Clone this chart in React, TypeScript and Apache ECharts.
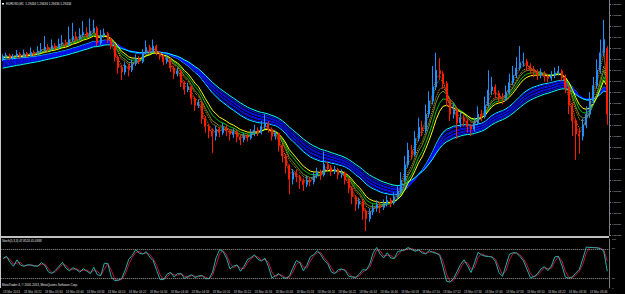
import React, { useEffect, useRef } from "react";
import * as echarts from "echarts";

const timeTicks = [
  "18 Mar 2013", "18 Mar 03:22", "18 Mar 03:34", "18 Mar 03:46", "18 Mar 03:58",
  "18 Mar 04:10", "18 Mar 04:22", "18 Mar 04:34", "18 Mar 04:46", "18 Mar 04:58",
  "18 Mar 05:10", "18 Mar 05:22", "18 Mar 05:34", "18 Mar 05:46", "18 Mar 05:58",
  "18 Mar 06:10", "18 Mar 06:22", "18 Mar 06:34", "18 Mar 06:46", "18 Mar 06:58",
  "18 Mar 07:10", "18 Mar 07:22", "18 Mar 07:34", "18 Mar 07:46", "18 Mar 07:58",
  "18 Mar 08:10", "18 Mar 08:22", "18 Mar 08:34", "18 Mar 08:46",
];

const opens = [
  1.29426,1.2943,1.29434,1.29428,1.29432,1.29437,1.29431,1.29438,1.29434,1.29441,
  1.29437,1.29444,1.29447,1.29453,1.29448,1.29456,1.29451,1.2946,1.29463,1.29458,
  1.2947,1.29477,1.29471,1.2948,1.29486,1.29479,1.29489,1.29496,1.29462,1.29479,
  1.29484,1.2947,1.29455,1.2943,1.29406,1.29396,1.29411,1.29401,1.29415,1.29426,
  1.2942,1.2944,1.29452,1.29445,1.29455,1.2944,1.29432,1.2942,1.29426,1.29405,
  1.29392,1.29398,1.29372,1.29356,1.29362,1.29335,1.2932,1.29326,1.2929,1.29272,
  1.29262,1.2925,1.29266,1.29258,1.2927,1.29262,1.29254,1.2926,1.29248,1.29242,
  1.2925,1.29246,1.29256,1.29264,1.29258,1.29272,1.2928,1.29266,1.2925,1.29256,
  1.29228,1.29205,1.29182,1.29152,1.29168,1.29158,1.29148,1.2914,1.2915,1.29146,
  1.2916,1.29168,1.29162,1.29186,1.29178,1.2917,1.29174,1.29162,1.29166,1.2915,
  1.29132,1.29112,1.29095,1.29102,1.2908,1.29062,1.29078,1.29086,1.29094,1.29088,
  1.29097,1.29104,1.29098,1.29112,1.29125,1.2915,1.29185,1.29218,1.29208,1.29245,
  1.2927,1.29262,1.293,1.2933,1.29362,1.294,1.29392,1.2937,1.2933,1.293,
  1.2931,1.2928,1.29292,1.29284,1.29272,1.29266,1.2928,1.293,1.29295,1.2932,
  1.29355,1.29362,1.29348,1.29338,1.29335,1.2935,1.29372,1.29388,1.29405,1.29418,
  1.2942,1.2941,1.29402,1.29395,1.2939,1.29393,1.29386,1.29382,1.29388,1.29394,
  1.29398,1.29385,1.2936,1.2932,1.29285,1.29255,1.2925,1.29275,1.293,1.2933,
  1.29365,1.294,1.2944,1.2945,
];

const closes = [
  1.2943,1.29434,1.29428,1.29432,1.29437,1.29431,1.29438,1.29434,1.29441,1.29437,
  1.29444,1.29447,1.29453,1.29448,1.29456,1.29451,1.2946,1.29463,1.29458,1.2947,
  1.29477,1.29471,1.2948,1.29486,1.29479,1.29489,1.29496,1.29462,1.29479,1.29484,
  1.2947,1.29455,1.2943,1.29406,1.29396,1.29411,1.29401,1.29415,1.29426,1.2942,
  1.2944,1.29452,1.29445,1.29455,1.2944,1.29432,1.2942,1.29426,1.29405,1.29392,
  1.29398,1.29372,1.29356,1.29362,1.29335,1.2932,1.29326,1.2929,1.29272,1.29262,
  1.2925,1.29266,1.29258,1.2927,1.29262,1.29254,1.2926,1.29248,1.29242,1.2925,
  1.29246,1.29256,1.29264,1.29258,1.29272,1.2928,1.29266,1.2925,1.29256,1.29228,
  1.29205,1.29182,1.29152,1.29168,1.29158,1.29148,1.2914,1.2915,1.29146,1.2916,
  1.29168,1.29162,1.29186,1.29178,1.2917,1.29174,1.29162,1.29166,1.2915,1.29132,
  1.29112,1.29095,1.29102,1.2908,1.29062,1.29078,1.29086,1.29094,1.29088,1.29097,
  1.29104,1.29098,1.29112,1.29125,1.2915,1.29185,1.29218,1.29208,1.29245,1.2927,
  1.29262,1.293,1.2933,1.29362,1.294,1.29392,1.2937,1.2933,1.293,1.2931,
  1.2928,1.29292,1.29284,1.29272,1.29266,1.2928,1.293,1.29295,1.2932,1.29355,
  1.29362,1.29348,1.29338,1.29335,1.2935,1.29372,1.29388,1.29405,1.29418,1.2942,
  1.2941,1.29402,1.29395,1.2939,1.29393,1.29386,1.29382,1.29388,1.29394,1.29398,
  1.29385,1.2936,1.2932,1.29285,1.29255,1.2925,1.29275,1.293,1.2933,1.29365,
  1.294,1.2944,1.2947,1.293,
];

const highs = [
  1.29436,1.2944,1.29438,1.29437,1.29446,1.29441,1.29447,1.29442,1.29452,1.29445,
  1.29455,1.29462,1.29478,1.2946,1.2947,1.29462,1.29472,1.2948,1.2947,1.295,
  1.29508,1.29488,1.29496,1.29512,1.29498,1.29518,1.29515,1.295,1.29492,1.29495,
  1.29488,1.29474,1.2946,1.29434,1.29412,1.29418,1.29415,1.29424,1.29436,1.29432,
  1.29448,1.29468,1.29458,1.2947,1.29458,1.29444,1.29436,1.29434,1.29428,1.2941,
  1.29406,1.29402,1.29376,1.29372,1.29365,1.2934,1.29334,1.2933,1.29296,1.29278,
  1.29268,1.29274,1.2927,1.2928,1.29276,1.29266,1.29268,1.29264,1.29254,1.29258,
  1.29256,1.29266,1.29276,1.2927,1.29285,1.293,1.29284,1.2927,1.29262,1.29258,
  1.29232,1.2921,1.29186,1.29175,1.29174,1.29162,1.29154,1.2916,1.29156,1.29168,
  1.29178,1.29174,1.29215,1.29192,1.29184,1.29182,1.29178,1.29174,1.2917,1.29155,
  1.29136,1.29116,1.2911,1.29106,1.29085,1.29086,1.29095,1.29104,1.291,1.29106,
  1.29115,1.2911,1.29122,1.29136,1.29168,1.29205,1.29235,1.2923,1.29262,1.29292,
  1.29285,1.29322,1.29352,1.2941,1.2944,1.29428,1.29398,1.29375,1.29338,1.29325,
  1.29316,1.29305,1.29298,1.2929,1.29278,1.29292,1.29318,1.2931,1.2934,1.294,
  1.29385,1.29368,1.29354,1.29348,1.29365,1.29392,1.2941,1.2943,1.29455,1.2944,
  1.29426,1.29416,1.2941,1.29402,1.29404,1.29398,1.29392,1.29398,1.29406,1.2941,
  1.29402,1.2939,1.29365,1.29326,1.2929,1.29268,1.2929,1.29318,1.2935,1.29385,
  1.29425,1.2947,1.29515,1.29455,
];

const lows = [
  1.29421,1.29426,1.29423,1.29424,1.29429,1.29426,1.29428,1.29429,1.29431,1.29432,
  1.29434,1.2944,1.29443,1.29442,1.29445,1.29446,1.29448,1.29455,1.29452,1.29455,
  1.29465,1.29466,1.29468,1.29476,1.29474,1.29476,1.29485,1.29455,1.29458,1.29474,
  1.29462,1.29448,1.2942,1.29392,1.29378,1.2939,1.29386,1.29396,1.2941,1.29414,
  1.29416,1.29436,1.29438,1.2944,1.29434,1.29424,1.29412,1.29415,1.29396,1.2938,
  1.29386,1.29362,1.29345,1.2935,1.29322,1.29308,1.29314,1.29278,1.29258,1.29245,
  1.29212,1.2924,1.29248,1.29252,1.2925,1.2924,1.29246,1.29236,1.2923,1.29236,
  1.29238,1.29242,1.2925,1.2925,1.29254,1.29266,1.29258,1.2924,1.29242,1.29215,
  1.2919,1.29165,1.29118,1.2914,1.29145,1.2913,1.29125,1.29134,1.29136,1.2914,
  1.29154,1.2915,1.29158,1.29168,1.2916,1.29164,1.29152,1.29155,1.2914,1.2912,
  1.29095,1.2908,1.29085,1.2906,1.29034,1.29055,1.2907,1.29078,1.29075,1.29082,
  1.2909,1.29088,1.29094,1.29106,1.2912,1.29145,1.29178,1.29198,1.29204,1.29238,
  1.2925,1.29256,1.29292,1.29322,1.29355,1.2938,1.29358,1.29318,1.29285,1.2929,
  1.29244,1.2927,1.29272,1.29258,1.2925,1.2926,1.29275,1.29284,1.2929,1.29315,
  1.29345,1.29336,1.29326,1.29322,1.2933,1.29345,1.29366,1.29382,1.294,1.29408,
  1.29398,1.29392,1.29384,1.29378,1.29382,1.29374,1.29372,1.29376,1.29382,1.29388,
  1.29375,1.29348,1.293,1.2925,1.29196,1.2921,1.2924,1.29268,1.29292,1.29322,
  1.29358,1.29392,1.29432,1.29276,
];

// Moving-average ribbon settings (periods in 2-minute bars, and the values the lines enter the window with)
const fastPeriods = [2, 3, 5, 6, 8, 10];
const fastSeeds = [1.29432, 1.29432, 1.29431, 1.2943, 1.29429, 1.29428];
const slowPeriods = [20, 21, 23, 24, 26, 27, 29, 31];
const slowSeeds = [1.29424, 1.29421, 1.29418, 1.29415, 1.29412, 1.29409, 1.29406, 1.29403];

// Stochastic settings on the 2-minute bars (equivalent time span of Stoch(5,3,3) on M1)
const stochParams = [3, 2, 2];

const priceTicks = { min: 1.29025, max: 1.2956, step: 0.00025 };
const stochLevels = [80, 20];
const titleText = "EURUSD,M1  1.29434 1.29434 1.29434 1.29434";
const stochText = "Stoch(5,3,3) 47.8524 45.0938";
const copyText = "MetaTrader 4, \u00A9 2001-2013, MetaQuotes Software Corp.";

function ema(src: number[], period: number, seed: number) {
  const a = 2 / (period + 1);
  let v = seed;
  return src.map((c) => {
    v = v + a * (c - v);
    return +v.toFixed(6);
  });
}

function stochastic(h: number[], l: number[], c: number[], kP: number, slow: number, dP: number) {
  const num: number[] = [];
  const den: number[] = [];
  for (let i = 0; i < c.length; i++) {
    let lo = Infinity, hi = -Infinity;
    for (let j = Math.max(0, i - kP + 1); j <= i; j++) {
      lo = Math.min(lo, l[j]);
      hi = Math.max(hi, h[j]);
    }
    num.push(c[i] - lo);
    den.push(hi - lo);
  }
  const main: number[] = [];
  for (let i = 0; i < c.length; i++) {
    let sn = 0, sd = 0;
    for (let j = Math.max(0, i - slow + 1); j <= i; j++) {
      sn += num[j];
      sd += den[j];
    }
    main.push(sd > 0 ? +((sn / sd) * 100).toFixed(3) : 50);
  }
  const sig: number[] = [];
  for (let i = 0; i < c.length; i++) {
    let s = 0, n = 0;
    for (let j = Math.max(0, i - dP + 1); j <= i; j++) {
      s += main[j];
      n++;
    }
    sig.push(+(s / n).toFixed(3));
  }
  return { main, sig };
}

export default function App() {
  const ref = useRef<HTMLDivElement>(null);
  useEffect(() => {
    if (!ref.current) return;
    const chart = echarts.init(ref.current, undefined, { renderer: "svg" });
    const cats = closes.map((_, i) => String(i));
    const candles = closes.map((c, i) => [opens[i], c, lows[i], highs[i]]);
    const fastColors = ["#d2691e", "#b8860b", "#daa520", "#6b8e23", "#00c000", "#ffff00"];
    const fastTypes = ["dotted", "dotted", "dotted", "solid", "solid", "solid"];
    const slowColors = ["#00ffff", "#0a14ff", "#0a14ff", "#0a14ff", "#0a14ff", "#0a14ff", "#0a14ff", "#00ffff"];
    const st = stochastic(highs, lows, closes, stochParams[0], stochParams[1], stochParams[2]);

    const lineSeries: any[] = [];
    slowPeriods.forEach((p, k) => {
      lineSeries.push({
        type: "line",
        xAxisIndex: 0,
        yAxisIndex: 0,
        data: ema(closes, p, slowSeeds[k]),
        showSymbol: false,
        symbol: "none",
        silent: true,
        lineStyle: { color: slowColors[k], width: 1 },
        z: 2,
      });
    });
    fastPeriods.forEach((p, k) => {
      lineSeries.push({
        type: "line",
        xAxisIndex: 0,
        yAxisIndex: 0,
        data: ema(closes, p, fastSeeds[k]),
        showSymbol: false,
        symbol: "none",
        silent: true,
        lineStyle: { color: fastColors[k], width: 1, type: fastTypes[k] },
        z: 2,
      });
    });

    const font = "Liberation Sans";
    const option: any = {
      animation: false,
      backgroundColor: "#000000",
      grid: [
        { left: 1, right: 16, top: 0, height: 235 },
        { left: 1, right: 16, top: 239, height: 49 },
      ],
      xAxis: [
        {
          type: "category",
          gridIndex: 0,
          data: cats,
          boundaryGap: true,
          axisLine: { show: false },
          axisTick: { show: false },
          axisLabel: { show: false },
          splitLine: { show: false },
        },
        {
          type: "category",
          gridIndex: 1,
          data: cats,
          boundaryGap: true,
          axisLine: { show: false },
          axisTick: { show: false },
          splitLine: { show: false },
          axisLabel: {
            interval: 5,
            align: "left",
            fontSize: 3,
            fontFamily: font,
            color: "#c8c8c8",
            margin: 2,
            formatter: (_v: string, i: number) => (i % 6 === 0 ? timeTicks[i / 6] || "" : ""),
          },
        },
      ],
      yAxis: [
        {
          type: "value",
          gridIndex: 0,
          position: "right",
          min: priceTicks.min,
          max: priceTicks.max,
          interval: priceTicks.step,
          splitLine: { show: false },
          axisLine: { show: true, lineStyle: { color: "#808080", width: 1 } },
          axisTick: { show: true, length: 2, lineStyle: { color: "#808080" } },
          axisLabel: {
            fontSize: 2.5,
            fontFamily: font,
            color: "#c8c8c8",
            margin: 3,
            showMaxLabel: false,
            formatter: (v: number) => v.toFixed(5),
          },
        },
        {
          type: "value",
          gridIndex: 1,
          position: "right",
          min: 0,
          max: 100,
          interval: 20,
          splitLine: { show: false },
          axisLine: { show: true, lineStyle: { color: "#808080", width: 1 } },
          axisTick: { show: false },
          axisLabel: {
            fontSize: 2.5,
            fontFamily: font,
            color: "#c8c8c8",
            margin: 3,
            formatter: (v: number) => (v === 100 || v === 80 || v === 20 || v === 0 ? String(v) : ""),
          },
        },
      ],
      series: [
        ...lineSeries,
        {
          type: "candlestick",
          xAxisIndex: 0,
          yAxisIndex: 0,
          data: candles,
          barWidth: 1.5,
          z: 3,
          itemStyle: {
            color: "#1e90ff",
            color0: "#ff1a00",
            borderColor: "#1e90ff",
            borderColor0: "#ff1a00",
            borderWidth: 1,
          },
        },
        {
          type: "line",
          xAxisIndex: 1,
          yAxisIndex: 1,
          data: st.sig,
          showSymbol: false,
          symbol: "none",
          silent: true,
          lineStyle: { color: "#c0143c", width: 1 },
        },
        {
          type: "line",
          xAxisIndex: 1,
          yAxisIndex: 1,
          data: st.main,
          showSymbol: false,
          symbol: "none",
          silent: true,
          lineStyle: { color: "#20b2aa", width: 1 },
          markLine: {
            silent: true,
            symbol: ["none", "none"],
            label: { show: false },
            lineStyle: { color: "#9a9a9a", type: "dotted", width: 1 },
            data: stochLevels.map((v) => ({ yAxis: v })),
          },
        },
      ],
      graphic: [
        { type: "line", shape: { x1: 0, y1: 237, x2: 609, y2: 237 }, style: { stroke: "#ffffff", lineWidth: 1.5 }, silent: true },
        { type: "line", shape: { x1: 0.5, y1: 0, x2: 0.5, y2: 288 }, style: { stroke: "#c8c8c8", lineWidth: 1 }, silent: true },
        { type: "rect", shape: { x: 2, y: 3, width: 2, height: 1.5 }, style: { fill: "#ffffff" }, silent: true },
        {
          type: "text",
          x: 6,
          y: 4,
          silent: true,
          style: { text: titleText, fill: "#e6e6e6", fontSize: 3, fontFamily: font, verticalAlign: "middle", textVerticalAlign: "middle" },
        },
        {
          type: "text",
          x: 2,
          y: 241,
          silent: true,
          style: { text: stochText, fill: "#e6e6e6", fontSize: 3, fontFamily: font, verticalAlign: "middle", textVerticalAlign: "middle" },
        },
        {
          type: "text",
          x: 2,
          y: 285,
          silent: true,
          style: { text: copyText, fill: "#e6e6e6", fontSize: 3, fontFamily: font, verticalAlign: "middle", textVerticalAlign: "middle" },
        },
      ],
    };
    chart.setOption(option);
    return () => chart.dispose();
  }, []);
  return (
    <div
      ref={ref}
      style={{ position: "fixed", left: 0, top: 0, width: 625, height: 294, background: "#000000" }}
    />
  );
}
